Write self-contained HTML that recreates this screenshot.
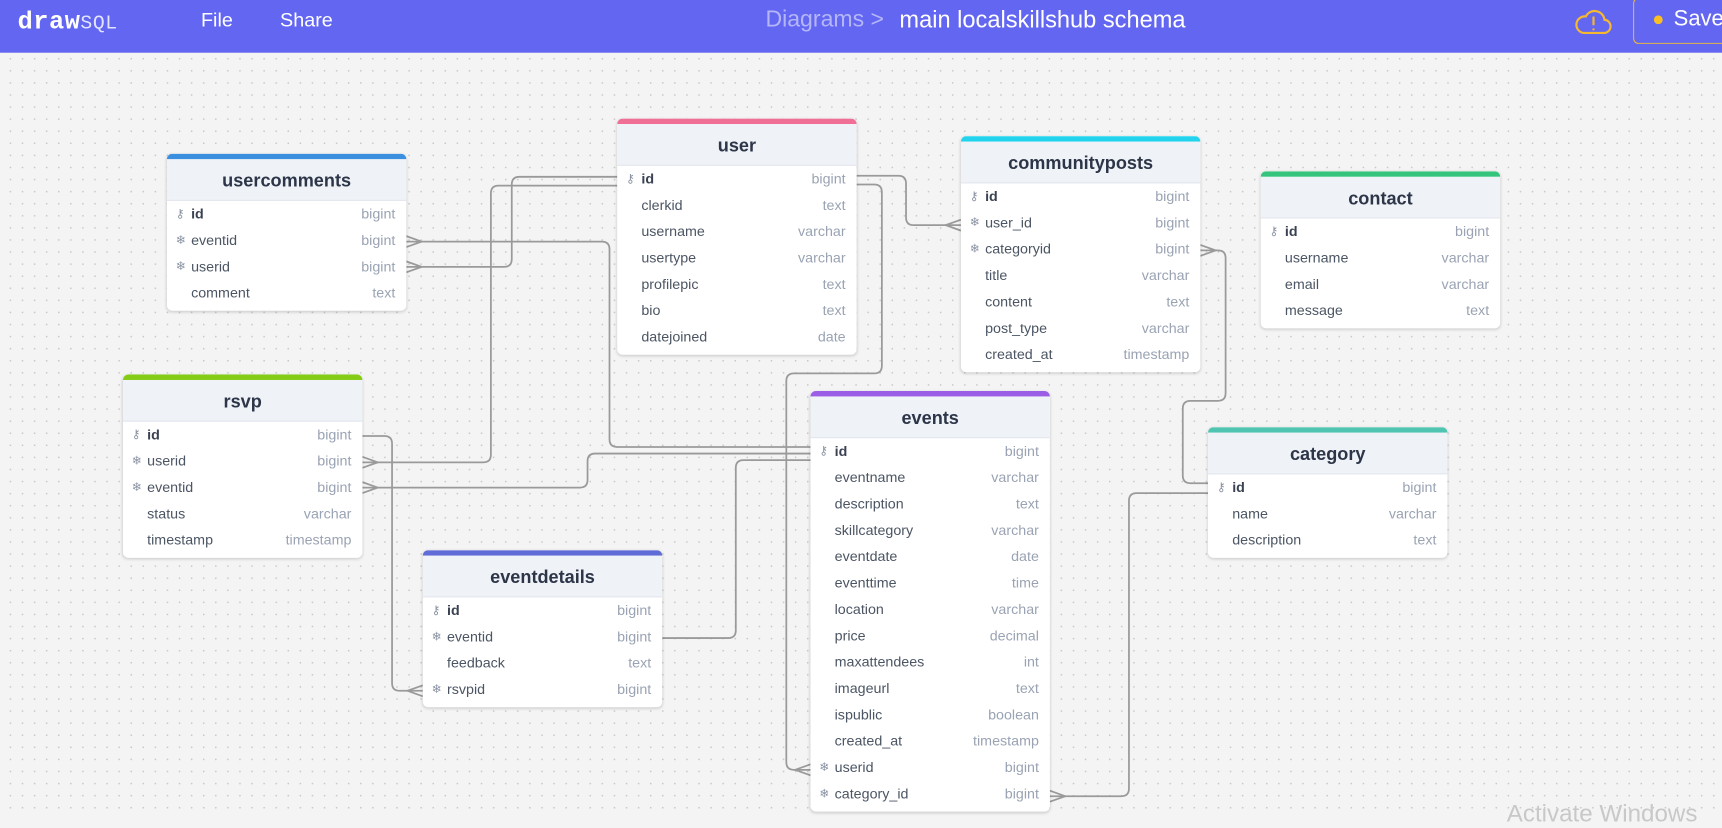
<!DOCTYPE html>
<html><head><meta charset="utf-8"><style>
html,body{margin:0;padding:0;width:1722px;height:815px;overflow:hidden;background:#f4f4f4;font-family:"Liberation Sans",Arial,sans-serif;}
#w{position:absolute;left:0;top:0;width:1568px;height:742px;transform:scale(1.09821);transform-origin:0 0;
background-color:#f4f4f4;background-image:radial-gradient(#c9c9c9 0.8px,transparent 0.9px);background-size:11px 11px;background-position:4px 4px;}
#hd{position:absolute;left:0;top:0;width:1568px;height:48px;background:#6366f1;color:#fff;}
#hd span{position:absolute;top:8px;font-size:18px;}
.t{position:absolute;width:218px;background:#fff;border-radius:5px;box-shadow:0 1px 3px rgba(0,0,0,.18);overflow:hidden;}
.t .bar{height:5px}
.t .ti{height:37px;background:#eff2f7;border-bottom:1px solid #e3e7ee;text-align:center;line-height:40px;font-weight:bold;font-size:16.5px;color:#2d3648;}
.t .r{height:24px;line-height:24px;font-size:13px;position:relative;color:#4b5563;}
.t .r .n{position:absolute;left:22px}
.t .r .ty{position:absolute;right:10px;color:#9aa3b3}
.t .r .ic{position:absolute;left:8px;font-size:11px;color:#8a93a3}
.t .r.k .n{font-weight:bold;color:#3a4252}
</style></head><body><div id="w">
<div id="hd">
<span style="left:16px;top:7px;font-family:'Liberation Mono',monospace;font-weight:bold;font-size:23px;letter-spacing:0.5px">draw<span style="position:static;font-weight:normal;color:#e3e5ff">SQL</span></span>
<span style="left:183px">File</span><span style="left:255px">Share</span>
<span style="left:697px;top:6px;color:#b4b6f8;font-size:21px">Diagrams &gt;</span>
<span style="left:819px;top:6px;font-size:21.5px">main localskillshub schema</span>
<svg style="position:absolute;left:1433px;top:5px" width="36" height="30" viewBox="0 0 36 30"><path d="M9 25 h18 a6 6 0 0 0 1-12 a9 9 0 0 0-17-3 a7 7 0 0 0-2 15z" fill="none" stroke="#f5b82e" stroke-width="2"/><path d="M18 10v8M18 21v1.5" stroke="#f5b82e" stroke-width="2"/></svg>
<div style="position:absolute;left:1487px;top:-2px;width:100px;height:40px;border:1px solid #e3b548;border-radius:5px"></div>
<div style="position:absolute;left:1506px;top:14px;width:8px;height:8px;border-radius:50%;background:#fbbf24"></div>
<span style="left:1524px;top:6px;font-size:20px">Save</span>
</div>
<svg style="position:absolute;left:0;top:0" width="1568" height="742" fill="none" stroke="#9a9a9a" stroke-width="1.6">
<path d="M562 161H473q-7 0-7 7V236q0 7-7 7H370"/><path d="M370 238l14 5l-14 5"/>
<path d="M562 169H454q-7 0-7 7V414q0 7-7 7H330"/><path d="M330 416l14 5l-14 5"/>
<path d="M780 160H818q7 0 7 7V198q0 7 7 7H875"/><path d="M875 200l-14 5l14 5"/>
<path d="M780 168H796q7 0 7 7V333q0 7-7 7H723q-7 0-7 7V694q0 7 7 7H738"/><path d="M738 696l-14 5l14 5"/>
<path d="M370 220H548q7 0 7 7V400q0 7 7 7H738"/><path d="M370 215l14 5l-14 5"/>
<path d="M330 444H528q7 0 7-7V420q0-7 7-7H738"/><path d="M330 439l14 5l-14 5"/>
<path d="M603 581H663q7 0 7-7V426q0-7 7-7H738"/>
<path d="M330 397H350q7 0 7 7V622q0 7 7 7H385"/><path d="M385 624l-14 5l14 5"/>
<path d="M1093 228H1109q7 0 7 7V358q0 7-7 7H1084q-7 0-7 7V433q0 7 7 7H1100"/><path d="M1093 223l14 5l-14 5"/>
<path d="M956 725H1021q7 0 7-7V456q0-7 7-7H1100"/><path d="M956 720l14 5l-14 5"/>
</svg>

<div class="t" style="left:562px;top:108px"><div class="bar" style="background:#f06f97"></div><div class="ti">user</div>
<div class="r k"><span class="ic">⚷</span><span class="n">id</span><span class="ty">bigint</span></div>
<div class="r"><span class="n">clerkid</span><span class="ty">text</span></div>
<div class="r"><span class="n">username</span><span class="ty">varchar</span></div>
<div class="r"><span class="n">usertype</span><span class="ty">varchar</span></div>
<div class="r"><span class="n">profilepic</span><span class="ty">text</span></div>
<div class="r"><span class="n">bio</span><span class="ty">text</span></div>
<div class="r"><span class="n">datejoined</span><span class="ty">date</span></div><div style="height:4px"></div></div>

<div class="t" style="left:152px;top:140px"><div class="bar" style="background:#3b8fdf"></div><div class="ti">usercomments</div>
<div class="r k"><span class="ic">⚷</span><span class="n">id</span><span class="ty">bigint</span></div>
<div class="r"><span class="ic">❄</span><span class="n">eventid</span><span class="ty">bigint</span></div>
<div class="r"><span class="ic">❄</span><span class="n">userid</span><span class="ty">bigint</span></div>
<div class="r"><span class="n">comment</span><span class="ty">text</span></div><div style="height:4px"></div></div>

<div class="t" style="left:875px;top:124px"><div class="bar" style="background:#22d3ee"></div><div class="ti">communityposts</div>
<div class="r k"><span class="ic">⚷</span><span class="n">id</span><span class="ty">bigint</span></div>
<div class="r"><span class="ic">❄</span><span class="n">user_id</span><span class="ty">bigint</span></div>
<div class="r"><span class="ic">❄</span><span class="n">categoryid</span><span class="ty">bigint</span></div>
<div class="r"><span class="n">title</span><span class="ty">varchar</span></div>
<div class="r"><span class="n">content</span><span class="ty">text</span></div>
<div class="r"><span class="n">post_type</span><span class="ty">varchar</span></div>
<div class="r"><span class="n">created_at</span><span class="ty">timestamp</span></div><div style="height:4px"></div></div>

<div class="t" style="left:1148px;top:156px"><div class="bar" style="background:#34c47c"></div><div class="ti">contact</div>
<div class="r k"><span class="ic">⚷</span><span class="n">id</span><span class="ty">bigint</span></div>
<div class="r"><span class="n">username</span><span class="ty">varchar</span></div>
<div class="r"><span class="n">email</span><span class="ty">varchar</span></div>
<div class="r"><span class="n">message</span><span class="ty">text</span></div><div style="height:4px"></div></div>

<div class="t" style="left:112px;top:341px"><div class="bar" style="background:#84cc16"></div><div class="ti">rsvp</div>
<div class="r k"><span class="ic">⚷</span><span class="n">id</span><span class="ty">bigint</span></div>
<div class="r"><span class="ic">❄</span><span class="n">userid</span><span class="ty">bigint</span></div>
<div class="r"><span class="ic">❄</span><span class="n">eventid</span><span class="ty">bigint</span></div>
<div class="r"><span class="n">status</span><span class="ty">varchar</span></div>
<div class="r"><span class="n">timestamp</span><span class="ty">timestamp</span></div><div style="height:4px"></div></div>

<div class="t" style="left:385px;top:501px"><div class="bar" style="background:#5f6bd6"></div><div class="ti">eventdetails</div>
<div class="r k"><span class="ic">⚷</span><span class="n">id</span><span class="ty">bigint</span></div>
<div class="r"><span class="ic">❄</span><span class="n">eventid</span><span class="ty">bigint</span></div>
<div class="r"><span class="n">feedback</span><span class="ty">text</span></div>
<div class="r"><span class="ic">❄</span><span class="n">rsvpid</span><span class="ty">bigint</span></div><div style="height:4px"></div></div>

<div class="t" style="left:738px;top:356px"><div class="bar" style="background:#9b5de5"></div><div class="ti">events</div>
<div class="r k"><span class="ic">⚷</span><span class="n">id</span><span class="ty">bigint</span></div>
<div class="r"><span class="n">eventname</span><span class="ty">varchar</span></div>
<div class="r"><span class="n">description</span><span class="ty">text</span></div>
<div class="r"><span class="n">skillcategory</span><span class="ty">varchar</span></div>
<div class="r"><span class="n">eventdate</span><span class="ty">date</span></div>
<div class="r"><span class="n">eventtime</span><span class="ty">time</span></div>
<div class="r"><span class="n">location</span><span class="ty">varchar</span></div>
<div class="r"><span class="n">price</span><span class="ty">decimal</span></div>
<div class="r"><span class="n">maxattendees</span><span class="ty">int</span></div>
<div class="r"><span class="n">imageurl</span><span class="ty">text</span></div>
<div class="r"><span class="n">ispublic</span><span class="ty">boolean</span></div>
<div class="r"><span class="n">created_at</span><span class="ty">timestamp</span></div>
<div class="r"><span class="ic">❄</span><span class="n">userid</span><span class="ty">bigint</span></div>
<div class="r"><span class="ic">❄</span><span class="n">category_id</span><span class="ty">bigint</span></div><div style="height:4px"></div></div>

<div class="t" style="left:1100px;top:389px"><div class="bar" style="background:#4fc4b0"></div><div class="ti">category</div>
<div class="r k"><span class="ic">⚷</span><span class="n">id</span><span class="ty">bigint</span></div>
<div class="r"><span class="n">name</span><span class="ty">varchar</span></div>
<div class="r"><span class="n">description</span><span class="ty">text</span></div><div style="height:4px"></div></div>

<div style="position:absolute;left:1372px;top:728px;font-size:22px;color:#c8c8c8">Activate Windows</div>
</div></body></html>
